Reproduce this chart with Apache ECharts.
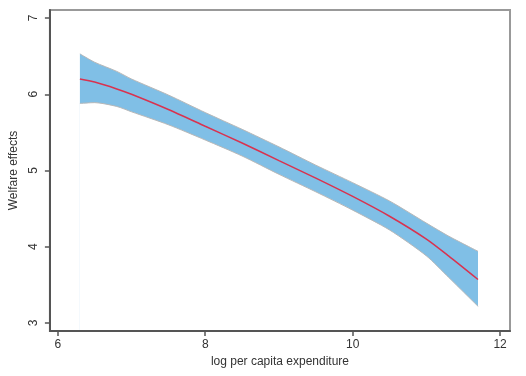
<!DOCTYPE html>
<html>
<head>
<meta charset="utf-8">
<script src="https://cdn.jsdelivr.net/npm/echarts@6/dist/echarts.min.js"></script>
<style>
  html, body { margin: 0; padding: 0; background: #fff; }
  #chart { width: 526px; height: 376px; }
</style>
</head>
<body>
<div id="chart"></div>
<script>
// log per capita expenditure
const xs = [6.3, 6.5, 6.8, 7.0, 7.5, 8.0, 8.5, 9.0, 9.5, 10.0, 10.5, 11.0, 11.3, 11.7]
// fitted welfare effect and confidence band
const fit   = [6.20, 6.16, 6.07, 6.00, 5.80, 5.58, 5.36, 5.13, 4.90, 4.66, 4.40, 4.10, 3.88, 3.57]
const upper = [6.53, 6.42, 6.30, 6.20, 5.99, 5.76, 5.54, 5.31, 5.07, 4.84, 4.60, 4.31, 4.14, 3.94]
const lower = [5.88, 5.89, 5.84, 5.77, 5.60, 5.40, 5.19, 4.95, 4.72, 4.48, 4.22, 3.88, 3.60, 3.22]

const xTicks = [6, 8, 10, 12]
const yTicks = [3, 4, 5, 6, 7]

const chart = echarts.init(document.getElementById('chart'))
const font = 'Liberation Sans, Arial, sans-serif'

chart.setOption({
  animation: false,
  backgroundColor: '#fff',
  grid: {
    left: 45, right: 16, top: 10, bottom: 45,
    show: true,
    borderColor: '#999',
    borderWidth: 2
  },
  xAxis: {
    type: 'value',
    min: 5.893,
    max: 12.134,
    z: 10,
    name: 'log per capita expenditure',
    nameLocation: 'middle',
    nameGap: 24,
    nameTextStyle: { color: '#333', fontSize: 12, fontFamily: font },
    axisLine: { show: true, onZero: false, lineStyle: { color: '#555', width: 2 } },
    axisTick: { show: true, customValues: xTicks, length: 5, lineStyle: { color: '#555', width: 1.5 } },
    axisLabel: { customValues: xTicks, color: '#333', fontSize: 12, fontFamily: font, margin: 8 },
    splitLine: { show: false }
  },
  yAxis: {
    type: 'value',
    min: 2.895,
    max: 7.105,
    z: 10,
    name: 'Welfare effects',
    nameLocation: 'middle',
    nameGap: 26,
    nameTextStyle: { color: '#333', fontSize: 12, fontFamily: font },
    axisLine: { show: true, onZero: false, lineStyle: { color: '#555', width: 2 } },
    axisTick: { show: true, customValues: yTicks, length: 5, lineStyle: { color: '#555', width: 1.5 } },
    axisLabel: { customValues: yTicks, rotate: 90, color: '#333', fontSize: 12, fontFamily: font, margin: 10 },
    splitLine: { show: false }
  },
  series: [
    {
      // upper bound filled down to the bottom in blue
      name: 'upper',
      type: 'line',
      symbol: 'none',
      smooth: 0.25,
      lineStyle: { color: '#b8b8b8', width: 1 },
      areaStyle: { color: '#80bfe6', opacity: 1, origin: 'start' },
      data: xs.map((x, i) => [x, upper[i]]),
      z: 1
    },
    {
      // lower bound masks the fill below the band
      name: 'lower',
      type: 'line',
      symbol: 'none',
      smooth: 0.25,
      lineStyle: { color: '#b8b8b8', width: 1 },
      areaStyle: { color: '#fff', opacity: 1, origin: 'start' },
      data: xs.map((x, i) => [x, lower[i]]),
      z: 2
    },
    {
      name: 'fit',
      type: 'line',
      symbol: 'none',
      smooth: 0.25,
      lineStyle: { color: '#d9324f', width: 1.5 },
      data: xs.map((x, i) => [x, fit[i]]),
      z: 5
    }
  ]
})
</script>
</body>
</html>
